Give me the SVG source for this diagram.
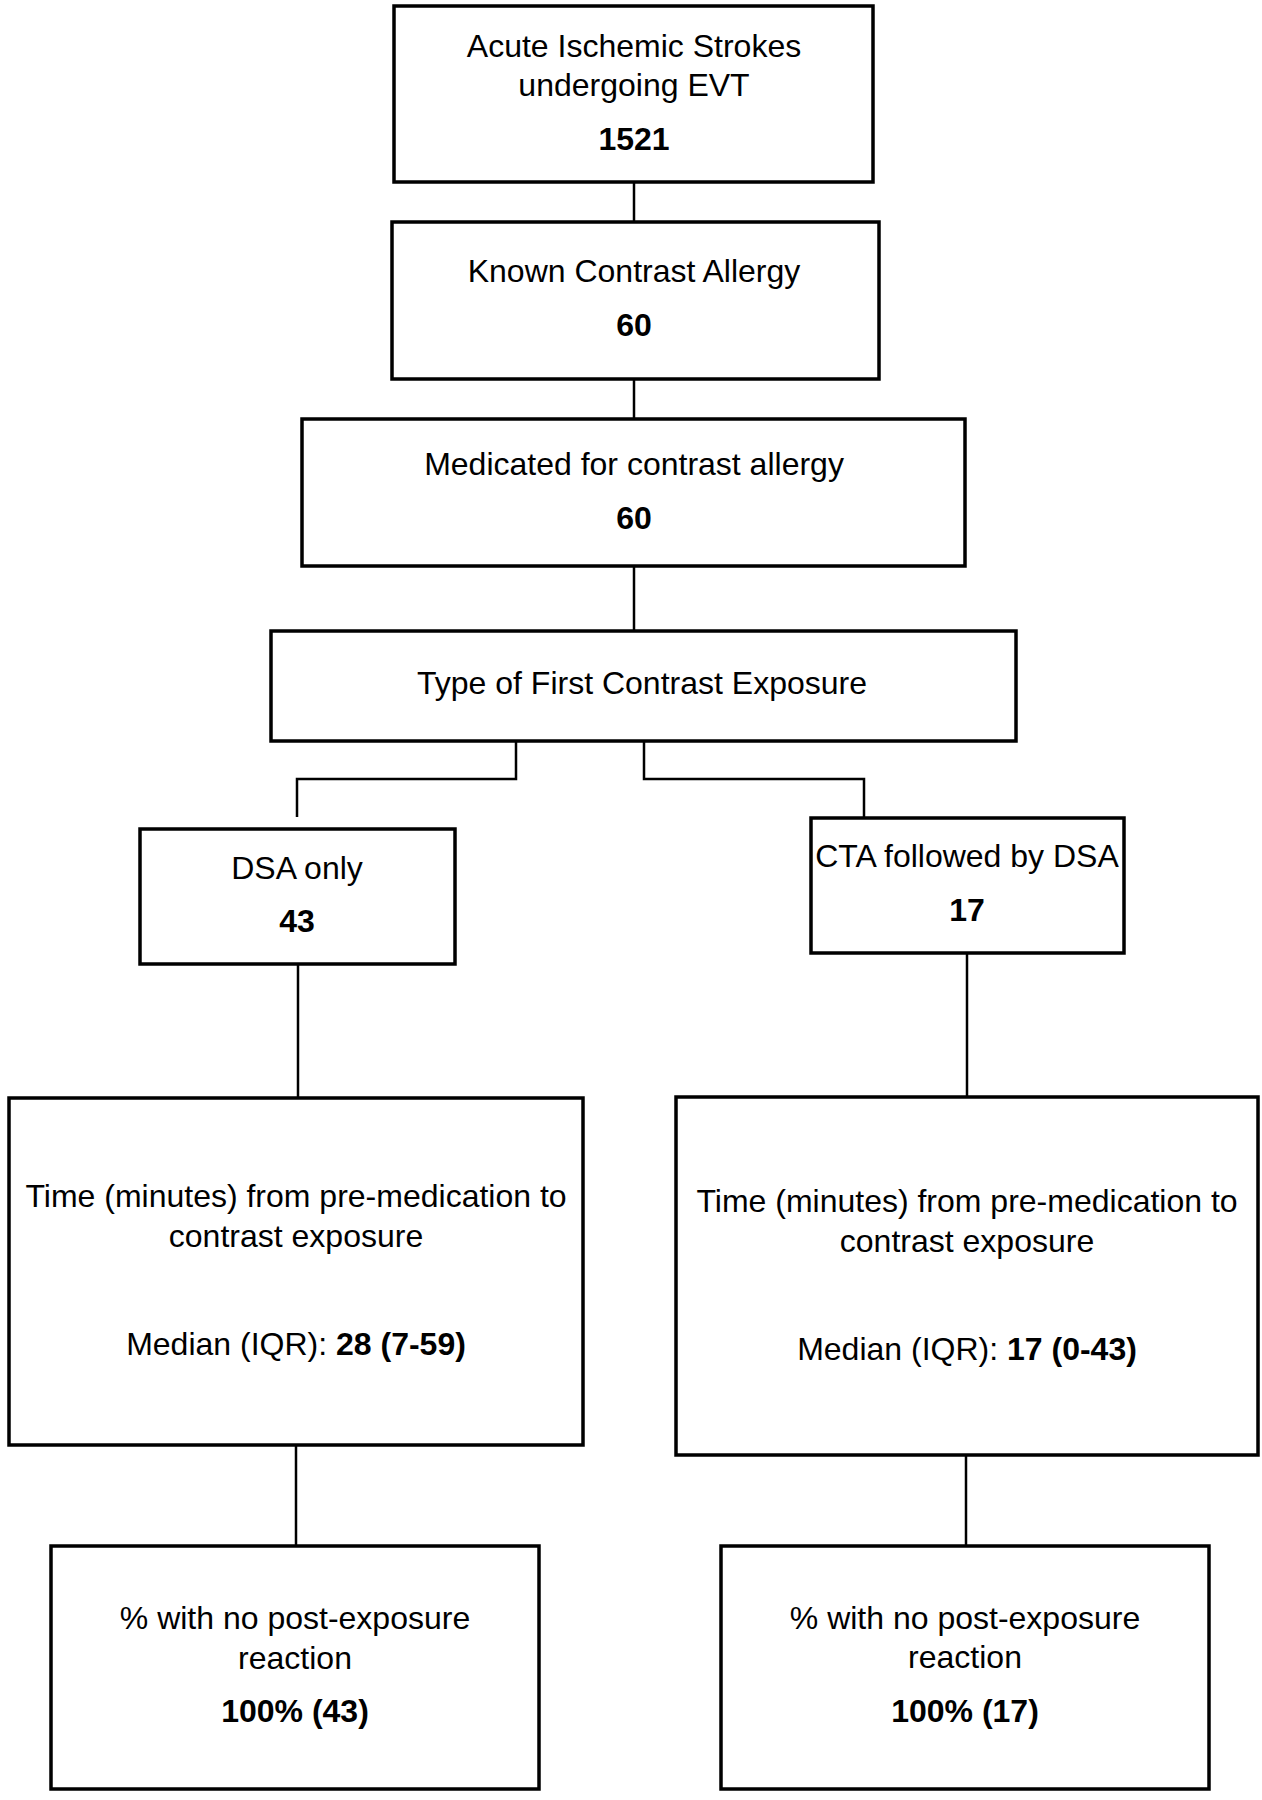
<svg xmlns="http://www.w3.org/2000/svg" width="1262" height="1800" viewBox="0 0 1262 1800">
<style>
.box{fill:#fff;stroke:#000;stroke-width:3.5}
.c{fill:none;stroke:#000;stroke-width:2.5}
text{font-family:"Liberation Sans",Arial,sans-serif;font-size:32px;fill:#000;text-anchor:middle}
.b{font-weight:bold}
</style>
<rect width="1262" height="1800" fill="#fff"/>
<g id="connectors">
<path class="c" d="M634 182V222"/>
<path class="c" d="M634 379V419"/>
<path class="c" d="M634 566V631"/>
<path class="c" d="M516 741V779H297V817"/>
<path class="c" d="M644 741V779H864V818"/>
<path class="c" d="M298 964V1098"/>
<path class="c" d="M967 953V1097"/>
<path class="c" d="M296 1445V1546"/>
<path class="c" d="M966 1455V1546"/>
</g>
<g id="n1">
<rect class="box" x="394" y="6" width="479" height="176"/>
<text x="634" y="57">Acute Ischemic Strokes</text>
<text x="634" y="96">undergoing EVT</text>
<text x="634" y="150" class="b">1521</text>
</g>
<g id="n2">
<rect class="box" x="392" y="222" width="487" height="157"/>
<text x="634" y="282">Known Contrast Allergy</text>
<text x="634" y="336" class="b">60</text>
</g>
<g id="n3">
<rect class="box" x="302" y="419" width="663" height="147"/>
<text x="634" y="475">Medicated for contrast allergy</text>
<text x="634" y="529" class="b">60</text>
</g>
<g id="n4">
<rect class="box" x="271" y="631" width="745" height="110"/>
<text x="642" y="694">Type of First Contrast Exposure</text>
</g>
<g id="n5">
<rect class="box" x="140" y="829" width="315" height="135"/>
<text x="297" y="879">DSA only</text>
<text x="297" y="932" class="b">43</text>
</g>
<g id="n6">
<rect class="box" x="811" y="818" width="313" height="135"/>
<text x="967" y="867">CTA followed by DSA</text>
<text x="967" y="921" class="b">17</text>
</g>
<g id="n7">
<rect class="box" x="9" y="1098" width="574" height="347"/>
<text x="296" y="1207">Time (minutes) from pre-medication to</text>
<text x="296" y="1247">contrast exposure</text>
<text x="296" y="1355">Median (IQR): <tspan class="b">28 (7-59)</tspan></text>
</g>
<g id="n8">
<rect class="box" x="676" y="1097" width="582" height="358"/>
<text x="967" y="1212">Time (minutes) from pre-medication to</text>
<text x="967" y="1252">contrast exposure</text>
<text x="967" y="1360">Median (IQR): <tspan class="b">17 (0-43)</tspan></text>
</g>
<g id="n9">
<rect class="box" x="51" y="1546" width="488" height="243"/>
<text x="295" y="1629">% with no post-exposure</text>
<text x="295" y="1669">reaction</text>
<text x="295" y="1722" class="b">100% (43)</text>
</g>
<g id="n10">
<rect class="box" x="721" y="1546" width="488" height="243"/>
<text x="965" y="1629">% with no post-exposure</text>
<text x="965" y="1668">reaction</text>
<text x="965" y="1722" class="b">100% (17)</text>
</g>
</svg>
